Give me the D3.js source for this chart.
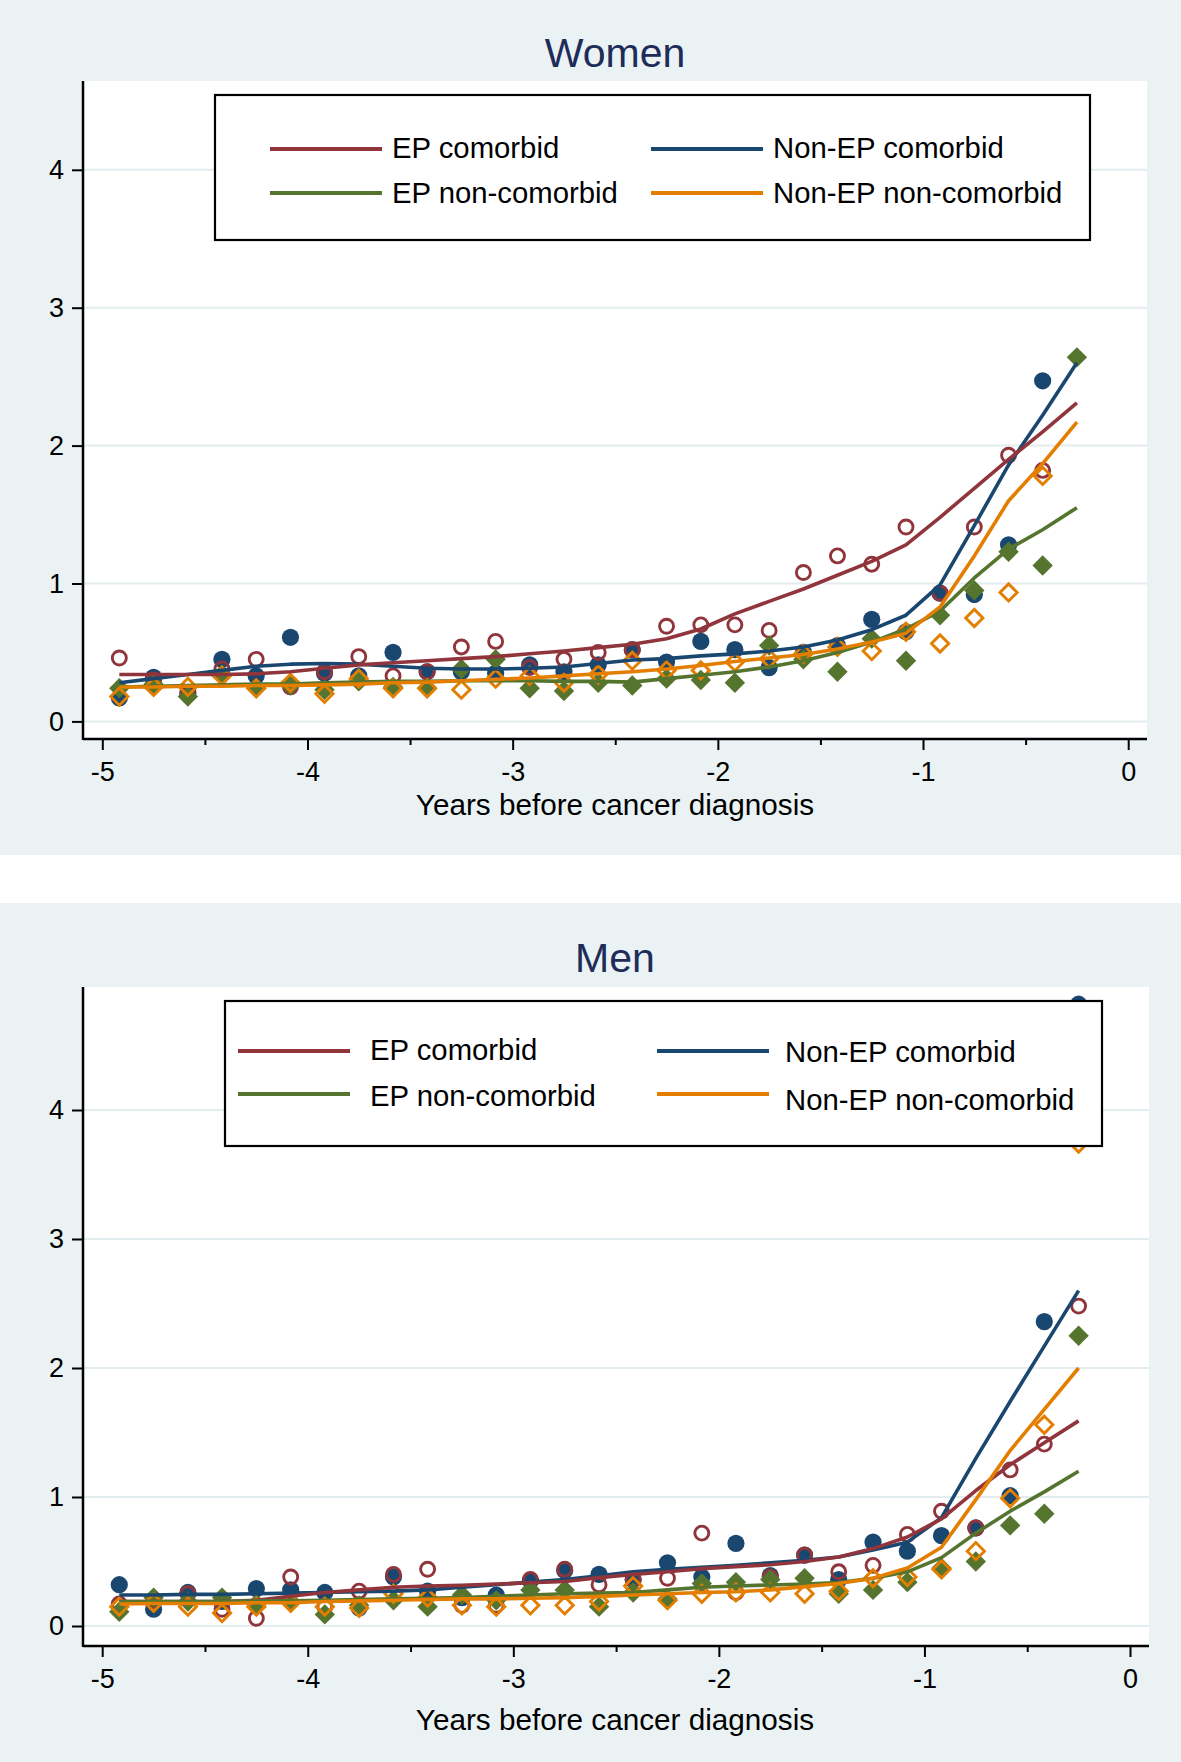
<!DOCTYPE html>
<html>
<head>
<meta charset="utf-8">
<script src="https://cdnjs.cloudflare.com/ajax/libs/d3/7.8.5/d3.min.js"></script>
<style>
  body { margin: 0; background: #fff; }
  text { font-family: 'Liberation Sans', Arial, Helvetica, sans-serif; }
</style>
</head>
<body>
<div id="chart"></div>
<script>
/* global d3 */

// x: middle of each two-month window before diagnosis (years)
const years = [-4.917, -4.750, -4.583, -4.417, -4.250, -4.083, -3.917, -3.750, -3.583, -3.417,
  -3.250, -3.083, -2.917, -2.750, -2.583, -2.417, -2.250, -2.083, -1.917, -1.750,
  -1.583, -1.417, -1.250, -1.083, -0.917, -0.750, -0.583, -0.417, -0.250]

const xTicks = [-5, -4, -3, -2, -1, 0]
const xMinor = [-4.5, -3.5, -2.5, -1.5, -0.5]
const yTicks = [0, 1, 2, 3, 4]
const groups = ['EP comorbid', 'Non-EP comorbid', 'EP non-comorbid', 'Non-EP non-comorbid']
const axisTitle = 'Years before cancer diagnosis'

// Women - observed values and smoothed fit
const womenEpCom = [0.46, 0.30, 0.20, 0.38, 0.45, 0.25, 0.36, 0.47, 0.33, 0.36, 0.54, 0.58, 0.39, 0.45, 0.50, 0.52, 0.69, 0.70, 0.70, 0.66, 1.08, 1.20, 1.14, 1.41, 0.93, 1.41, 1.93, 1.82, 3.70]
const womenEpComFit = [0.34, 0.34, 0.34, 0.34, 0.345, 0.36, 0.385, 0.41, 0.425, 0.44, 0.455, 0.47, 0.49, 0.51, 0.535, 0.56, 0.60, 0.67, 0.78, 0.87, 0.96, 1.06, 1.16, 1.28, 1.48, 1.69, 1.90, 2.10, 2.31]
const womenNonEpCom = [0.17, 0.32, 0.21, 0.45, 0.33, 0.61, 0.35, 0.33, 0.50, 0.36, 0.36, 0.35, 0.41, 0.36, 0.41, 0.52, 0.43, 0.58, 0.52, 0.39, 0.50, 0.55, 0.74, 0.65, 0.93, 0.92, 1.28, 2.47, 4.20]
const womenNonEpComFit = [0.28, 0.31, 0.34, 0.37, 0.40, 0.415, 0.42, 0.415, 0.40, 0.385, 0.38, 0.38, 0.385, 0.395, 0.42, 0.445, 0.455, 0.475, 0.49, 0.51, 0.54, 0.59, 0.665, 0.77, 0.99, 1.42, 1.86, 2.22, 2.60]
const womenEpNon = [0.24, 0.27, 0.18, 0.34, 0.24, 0.26, 0.23, 0.29, 0.25, 0.24, 0.38, 0.45, 0.24, 0.22, 0.28, 0.26, 0.31, 0.30, 0.28, 0.55, 0.45, 0.36, 0.60, 0.44, 0.77, 0.95, 1.23, 1.13, 2.64]
const womenEpNonFit = [0.25, 0.255, 0.26, 0.265, 0.27, 0.27, 0.28, 0.285, 0.29, 0.29, 0.295, 0.295, 0.295, 0.29, 0.29, 0.285, 0.31, 0.335, 0.36, 0.395, 0.44, 0.50, 0.575, 0.67, 0.80, 1.04, 1.25, 1.39, 1.55]
const womenNonEpNon = [0.18, 0.25, 0.25, 0.33, 0.24, 0.28, 0.20, 0.31, 0.24, 0.24, 0.23, 0.31, 0.33, 0.28, 0.34, 0.44, 0.37, 0.37, 0.43, 0.455, 0.49, 0.54, 0.51, 0.65, 0.565, 0.75, 0.935, 1.78, 3.90]
const womenNonEpNonFit = [0.25, 0.25, 0.255, 0.255, 0.26, 0.26, 0.265, 0.27, 0.28, 0.285, 0.295, 0.305, 0.315, 0.33, 0.345, 0.36, 0.38, 0.405, 0.435, 0.46, 0.485, 0.525, 0.575, 0.64, 0.83, 1.20, 1.60, 1.87, 2.17]

// Men
const menEpCom = [0.17, 0.19, 0.25, 0.13, 0.06, 0.38, 0.15, 0.27, 0.40, 0.44, 0.16, 0.16, 0.36, 0.44, 0.32, 0.36, 0.37, 0.72, 0.26, 0.38, 0.55, 0.42, 0.47, 0.71, 0.89, 0.76, 1.21, 1.41, 2.48]
const menEpComFit = [0.19, 0.19, 0.19, 0.19, 0.20, 0.23, 0.26, 0.28, 0.30, 0.31, 0.315, 0.325, 0.335, 0.345, 0.375, 0.40, 0.42, 0.445, 0.46, 0.475, 0.50, 0.535, 0.60, 0.69, 0.83, 1.05, 1.25, 1.42, 1.59]
const menNonEpCom = [0.32, 0.13, 0.26, 0.19, 0.29, 0.28, 0.26, 0.14, 0.38, 0.27, 0.22, 0.24, 0.35, 0.43, 0.40, 0.36, 0.49, 0.38, 0.64, 0.39, 0.55, 0.36, 0.65, 0.58, 0.70, 0.76, 1.01, 2.36, 4.82]
const menNonEpComFit = [0.24, 0.24, 0.245, 0.245, 0.25, 0.255, 0.26, 0.265, 0.27, 0.28, 0.30, 0.32, 0.34, 0.36, 0.39, 0.42, 0.44, 0.455, 0.47, 0.49, 0.51, 0.535, 0.59, 0.65, 0.84, 1.30, 1.74, 2.17, 2.60]
const menEpNon = [0.11, 0.22, 0.19, 0.22, 0.17, 0.19, 0.09, 0.16, 0.20, 0.15, 0.24, 0.20, 0.28, 0.28, 0.15, 0.26, 0.21, 0.33, 0.34, 0.36, 0.37, 0.25, 0.28, 0.34, 0.45, 0.50, 0.78, 0.87, 2.25]
const menEpNonFit = [0.19, 0.19, 0.19, 0.19, 0.195, 0.195, 0.20, 0.205, 0.21, 0.215, 0.22, 0.23, 0.24, 0.25, 0.255, 0.26, 0.28, 0.30, 0.31, 0.318, 0.326, 0.336, 0.37, 0.42, 0.53, 0.72, 0.89, 1.04, 1.20]
const menNonEpNon = [0.15, 0.18, 0.15, 0.10, 0.15, 0.18, 0.15, 0.14, 0.25, 0.22, 0.16, 0.15, 0.16, 0.16, 0.19, 0.31, 0.20, 0.25, 0.26, 0.26, 0.25, 0.27, 0.37, 0.38, 0.44, 0.58, 0.99, 1.56, 3.74]
const menNonEpNonFit = [0.17, 0.175, 0.175, 0.175, 0.18, 0.18, 0.19, 0.195, 0.20, 0.205, 0.21, 0.21, 0.215, 0.22, 0.23, 0.24, 0.25, 0.26, 0.266, 0.28, 0.305, 0.33, 0.37, 0.45, 0.61, 0.98, 1.36, 1.68, 2.00]

// look of each group (stata s2color)
const look = {
  'EP comorbid': { color: '#90353b', shape: 'circle', filled: false },
  'Non-EP comorbid': { color: '#1a476f', shape: 'circle', filled: true },
  'EP non-comorbid': { color: '#55752f', shape: 'diamond', filled: true },
  'Non-EP non-comorbid': { color: '#e37e00', shape: 'diamond', filled: false }
}
// stata drew them in this order
const drawOrder = ['Non-EP comorbid', 'EP comorbid', 'EP non-comorbid', 'Non-EP non-comorbid']

const panels = [
  {
    title: 'Women',
    bg: [0, 855], titleY: 67,
    plot: { l: 83, r: 1147, t: 81, b: 739 },
    xr: [102.3, 1128.2], yr: [721.4, 169.8],
    legend: { x: 215, y: 95, w: 875, h: 145, lines: [149, 193], texts: [[158, 158], [203, 203]],
      cols: [[270, 382, 392], [651, 763, 773]] },
    axisTitleY: 815,
    series: {
      'EP comorbid': [womenEpCom, womenEpComFit],
      'Non-EP comorbid': [womenNonEpCom, womenNonEpComFit],
      'EP non-comorbid': [womenEpNon, womenEpNonFit],
      'Non-EP non-comorbid': [womenNonEpNon, womenNonEpNonFit]
    }
  },
  {
    title: 'Men',
    bg: [903, 1762], titleY: 972,
    plot: { l: 83, r: 1149, t: 987, b: 1646 },
    xr: [102.2, 1130], yr: [1626, 1110],
    legend: { x: 225, y: 1001, w: 877, h: 145, lines: [1051, 1094], texts: [[1060, 1062], [1106, 1110]],
      cols: [[238, 350, 370], [657, 769, 785]] },
    axisTitleY: 1730,
    series: {
      'EP comorbid': [menEpCom, menEpComFit],
      'Non-EP comorbid': [menNonEpCom, menNonEpComFit],
      'EP non-comorbid': [menEpNon, menEpNonFit],
      'Non-EP non-comorbid': [menNonEpNon, menNonEpNonFit]
    }
  }
]

const width = 1181, height = 1762

let svg = d3.select('#chart')
  .append('svg')
  .attr('width', width)
  .attr('height', height)
  .style('display', 'block')

// little stray mark in the corner of the original
svg.append('text')
  .attr('x', 76).attr('y', 36)
  .style('font-size', '18px')
  .text('-')

let drawPanel = (p) => {
  const g = svg.append('g')

  g.append('rect')
    .attr('x', 0).attr('y', p.bg[0])
    .attr('width', width).attr('height', p.bg[1] - p.bg[0])
    .attr('fill', '#eaf2f3')

  g.append('rect')
    .attr('x', p.plot.l).attr('y', p.plot.t)
    .attr('width', p.plot.r - p.plot.l).attr('height', p.plot.b - p.plot.t)
    .attr('fill', '#ffffff')

  const x = d3.scaleLinear().domain([-5, 0]).range(p.xr)
  const y = d3.scaleLinear().domain([0, 4]).range(p.yr)

  // gridlines
  g.selectAll('.grid')
    .data(yTicks)
    .enter()
    .append('line')
    .attr('x1', p.plot.l + 1).attr('x2', p.plot.r)
    .attr('y1', d => y(d)).attr('y2', d => y(d))
    .attr('stroke', '#e3ecee')
    .attr('stroke-width', 2)

  // markers
  drawOrder.forEach(name => {
    const st = look[name]
    const pts = p.series[name][0]
    const m = g.append('g')
    m.selectAll('path')
      .data(pts)
      .enter()
      .append('path')
      .attr('transform', (d, i) => `translate(${x(years[i])},${y(d)})`)
      .attr('d', () => {
        if (st.shape === 'circle') {
          return st.filled ? d3.symbol(d3.symbolCircle, Math.PI * 8.6 * 8.6)() : d3.symbol(d3.symbolCircle, Math.PI * 7 * 7)()
        }
        const h = st.filled ? 10.2 : 8.6
        return `M0,${-h}L${h},0L0,${h}L${-h},0Z`
      })
      .attr('fill', st.filled ? st.color : 'none')
      .attr('stroke', st.filled ? 'none' : st.color)
      .attr('stroke-width', st.filled ? 0 : 2.9)
  })

  // smoothed lines
  const line = d3.line()
    .x((d, i) => x(years[i]))
    .y(d => y(d))
  drawOrder.forEach(name => {
    g.append('path')
      .datum(p.series[name][1])
      .attr('d', line)
      .attr('fill', 'none')
      .attr('stroke', look[name].color)
      .attr('stroke-width', 3.6)
      .attr('stroke-linejoin', 'round')
  })

  // legend
  const lg = g.append('g')
  lg.append('rect')
    .attr('x', p.legend.x).attr('y', p.legend.y)
    .attr('width', p.legend.w).attr('height', p.legend.h)
    .attr('fill', '#ffffff')
    .attr('stroke', '#000')
    .attr('stroke-width', 2.2)
  groups.forEach((name, i) => {
    const row = Math.floor(i / 2), col = i % 2
    const c = p.legend.cols[col]
    lg.append('line')
      .attr('x1', c[0]).attr('x2', c[1])
      .attr('y1', p.legend.lines[row]).attr('y2', p.legend.lines[row])
      .attr('stroke', look[name].color)
      .attr('stroke-width', 4.2)
    lg.append('text')
      .attr('x', c[2]).attr('y', p.legend.texts[row][col])
      .style('font-size', '29.3px')
      .attr('fill', '#000')
      .text(name)
  })

  // axes
  const yAxis = d3.axisLeft(y)
    .tickValues(yTicks)
    .tickSize(11)
    .tickPadding(8)
    .tickFormat(d => String(d))
  const ya = g.append('g')
    .attr('transform', `translate(${p.plot.l},0)`)
    .call(yAxis)
  ya.select('.domain').remove()

  const xAxis = d3.axisBottom(x)
    .tickValues(xTicks)
    .tickSize(11)
    .tickPadding(12)
    .tickFormat(d => String(d))
  const xa = g.append('g')
    .attr('transform', `translate(0,${p.plot.b})`)
    .call(xAxis)
  xa.select('.domain').remove()

  const xm = g.append('g')
    .attr('transform', `translate(0,${p.plot.b})`)
    .call(d3.axisBottom(x).tickValues(xMinor).tickSize(6).tickFormat(''))
  xm.select('.domain').remove()

  g.selectAll('.tick line').attr('stroke', '#000').attr('stroke-width', 2)
  g.selectAll('.tick text')
    .style('font-size', '27px')
    .style('font-family', "'Liberation Sans', Arial, sans-serif")
    .attr('fill', '#000')

  g.append('line')
    .attr('x1', p.plot.l).attr('x2', p.plot.l)
    .attr('y1', p.plot.t).attr('y2', p.plot.b + 1)
    .attr('stroke', '#000').attr('stroke-width', 2.5)
  g.append('line')
    .attr('x1', p.plot.l).attr('x2', p.plot.r)
    .attr('y1', p.plot.b).attr('y2', p.plot.b)
    .attr('stroke', '#000').attr('stroke-width', 2.5)

  g.append('text')
    .attr('x', 615).attr('y', p.axisTitleY)
    .attr('text-anchor', 'middle')
    .style('font-size', '29.7px')
    .text(axisTitle)

  g.append('text')
    .attr('x', 615).attr('y', p.titleY)
    .attr('text-anchor', 'middle')
    .style('font-size', '41px')
    .attr('fill', '#1e2c5a')
    .text(p.title)
}

panels.forEach(drawPanel)
</script>
</body>
</html>
